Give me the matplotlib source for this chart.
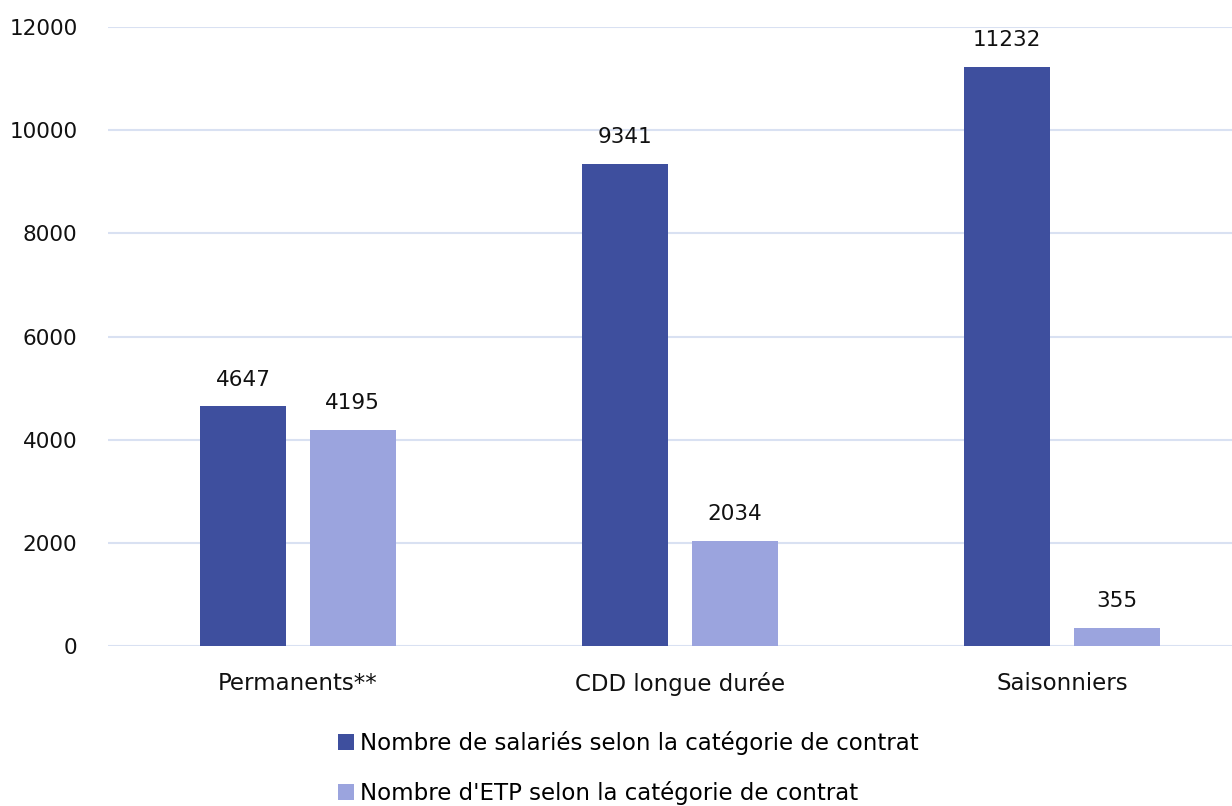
import matplotlib.pyplot as plt
import numpy as np

categories = ["Permanents**", "CDD longue durée", "Saisonniers"]
salaries = [4647, 9341, 11232]
etp = [4195, 2034, 355]
series_labels = ["Nombre de salariés selon la catégorie de contrat",
                 "Nombre d'ETP selon la catégorie de contrat"]
yticks = [0, 2000, 4000, 6000, 8000, 10000, 12000]

DARK = "#3e4f9e"
LIGHT = "#9ba4de"
GRID = "#d9e1f2"
NUM_FS = 15.5
TXT_FS = 16.5

plt.rcParams['font.family'] = ['DejaVu Sans']

fig = plt.figure(figsize=(12.32, 8.06), dpi=100)
ax = fig.add_axes([0.0877, 0.1985, 0.9123, 0.768])

x = np.arange(len(categories))
w = 0.225
off = 0.143
b1 = ax.bar(x - off, salaries, w, color=DARK, label=series_labels[0], zorder=3)
b2 = ax.bar(x + off, etp, w, color=LIGHT, label=series_labels[1], zorder=3)

# value labels above bars
for bars in (b1, b2):
    for rect in bars:
        ax.annotate(str(int(rect.get_height())),
                    (rect.get_x() + rect.get_width() / 2, rect.get_height()),
                    xytext=(0, 12), textcoords="offset points",
                    ha="center", va="bottom", fontsize=NUM_FS, color="#111111")

ax.set_ylim(0, 12000)
ax.set_xlim(-0.497, 2.445)
ax.set_yticks(yticks)
ax.set_xticks(x)
ax.set_xticklabels(categories)
ax.tick_params(axis='both', length=0, colors="#111111")
ax.tick_params(axis='y', pad=22, labelsize=NUM_FS)
ax.tick_params(axis='x', pad=19, labelsize=TXT_FS)
ax.grid(axis='y', color=GRID, linewidth=1.5, zorder=0)
for s in ax.spines.values():
    s.set_visible(False)

fig.legend(handles=[b1, b2], loc="center", bbox_to_anchor=(0.51, 0.047),
           ncol=1, frameon=False, fontsize=TXT_FS, handlelength=0.7, handleheight=0.7,
           handletextpad=0.25, labelspacing=1.15)

fig.savefig("out.png", dpi=100)
